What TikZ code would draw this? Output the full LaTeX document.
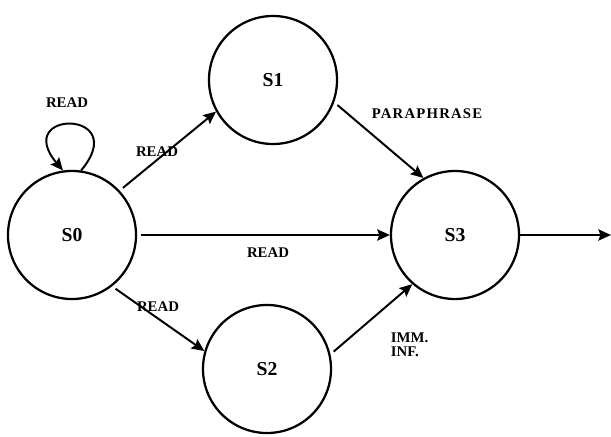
\documentclass[tikz,border=0pt]{standalone}
\usepackage{fontspec}
\setmainfont{Liberation Serif}
\usetikzlibrary{arrows.meta}
\begin{document}
\begin{tikzpicture}[x=0.025cm,y=0.025cm]
\tikzstyle{state} = [draw,circle,line width=1.6pt,minimum size=3.2cm,inner sep=0pt,font=\bfseries\fontsize{14}{16}\selectfont]
\tikzstyle{lbl} = [text centered,font=\bfseries\fontsize{10.5}{10}\selectfont]
\tikzstyle{arr} = [line width=1.4pt,shorten <=3pt,-{Stealth[length=9pt,width=8pt,inset=1.5pt]}]
\useasboundingbox (0,0) rectangle (611,436);
	\node[state] (s0) at (72,201) {S0};
	\node[state] (s1) at (273,356) {S1};
	\node[state] (s2) at (267,67) {S2};
	\node[state] (s3) at (455,201) {S3};
	\coordinate (out) at (611,201);
	% self loop on S0
	\draw[arr,shorten <=0pt] (s0.82) .. controls +(50:80) and +(130:80) .. (s0.98);
	\node[lbl] (l0) at (67,333) {READ};
	% transitions
	\draw[arr] (s0.43) -- (s1.209);
	\node[lbl] (l1) at (157,284) {READ};
	\draw[arr] (s0.east) -- (s3.west);
	\node[lbl] (l2) at (268,183) {READ};
	\draw[arr] (s0.308) -- (s2.164);
	\node[lbl] (l3) at (158,129) {READ};
	\draw[arr] (s1.340) -- (s3.119);
	\node[lbl] (l4) at (427,322) {\addfontfeature{LetterSpace=8}PARAPHRASE};
	\draw[arr] (s2.13) -- (s3.229);
	\node[lbl,align=left,anchor=west] (l5) at (386,91) {IMM.\\INF.};
	\draw[arr,shorten <=0pt] (s3.east) -- (out);
\end{tikzpicture}
\end{document}
